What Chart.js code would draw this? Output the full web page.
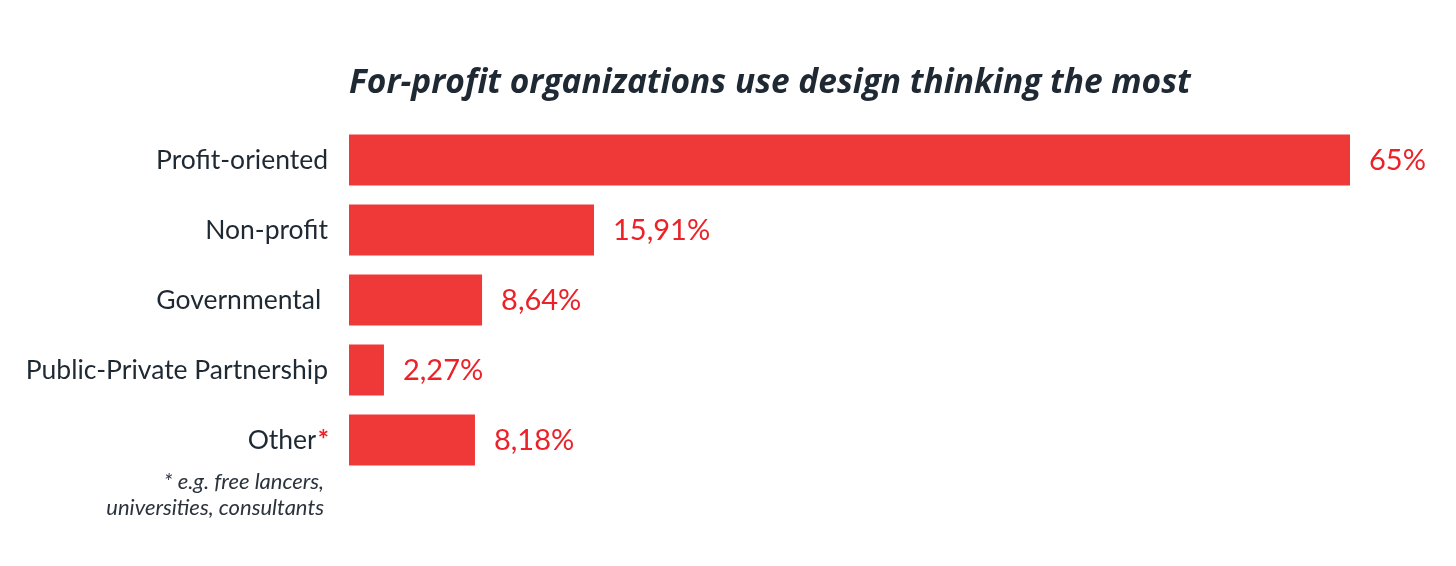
<!DOCTYPE html>
<html>
<head>
<meta charset="utf-8">
<script src="https://cdn.jsdelivr.net/npm/chart.js@4"></script>
<style>
  html, body { margin: 0; padding: 0; background: #ffffff; }
  #wrap { width: 1456px; height: 566px; position: relative; }
</style>
</head>
<body>
<div id="wrap"><canvas id="c" width="1456" height="566"></canvas></div>
<script>
const titleText = "For-profit organizations use design thinking the most";
const categories = ["Profit-oriented", "Non-profit", "Governmental ", "Public-Private Partnership", "Other*"];
const values = [65, 15.91, 8.64, 2.27, 8.18];
const valueLabels = ["65%", "15,91%", "8,64%", "2,27%", "8,18%"];
const footnoteLines = ["* e.g. free lancers,", "universities, consultants"];

const DARK = "#1f2933";
const RED_BAR = "#ef3838";
const RED_TEXT = "#ec2229";
const FONT = "Lato, 'Open Sans', sans-serif";
const LABEL_SIZE = 26.5;

const overlay = {
  id: "overlay",
  afterDatasetsDraw(chart) {
    const ctx = chart.ctx;
    const meta = chart.getDatasetMeta(0);
    const area = chart.chartArea;
    ctx.save();
    // title
    ctx.font = "italic bold 33.5px 'Open Sans', sans-serif";
    ctx.fillStyle = DARK;
    ctx.textAlign = "left";
    ctx.textBaseline = "alphabetic";
    ctx.fillText(titleText, area.left, 93);
    // value labels
    ctx.font = "29px " + FONT;
    ctx.fillStyle = RED_TEXT;
    meta.data.forEach((bar, i) => {
      ctx.fillText(valueLabels[i], bar.x + 19, bar.y + 10);
    });
    // red asterisk on "Other*"
    const yScale = chart.scales.y;
    const xRight = area.left - 21;
    const idx = categories.length - 1;
    const yOther = yScale.getPixelForValue(idx);
    ctx.textAlign = "right";
    ctx.textBaseline = "middle";
    ctx.font = LABEL_SIZE + "px " + FONT;
    const aw = ctx.measureText("*").width;
    ctx.fillStyle = "#ffffff";
    ctx.fillRect(xRight - aw - 1, yOther - 16, aw + 3, 15);
    ctx.fillStyle = RED_TEXT;
    ctx.font = "bold " + LABEL_SIZE + "px " + FONT;
    ctx.fillText("*", xRight + 1, yOther);
    // footnote
    ctx.font = "italic 22px " + FONT;
    ctx.fillStyle = "#2b333d";
    ctx.fillText(footnoteLines[0], xRight - 4, yOther + 42);
    ctx.fillText(footnoteLines[1], xRight - 4, yOther + 68);
    ctx.restore();
  }
};

new Chart(document.getElementById("c"), {
  type: "bar",
  data: {
    labels: categories,
    datasets: [{
      data: values,
      backgroundColor: RED_BAR,
      borderWidth: 0,
      barPercentage: 0.73,
      categoryPercentage: 1.0
    }]
  },
  options: {
    indexAxis: "y",
    responsive: false,
    animation: false,
    devicePixelRatio: 1,
    layout: { padding: { top: 125, right: 106, bottom: 91, left: 0 } },
    plugins: {
      legend: { display: false },
      tooltip: { enabled: false },
      title: { display: false }
    },
    scales: {
      x: {
        min: 0,
        max: 65,
        display: false,
        grid: { display: false }
      },
      y: {
        grid: { display: false, drawTicks: false },
        border: { display: false },
        ticks: {
          color: DARK,
          font: { family: FONT, size: LABEL_SIZE },
          padding: 21
        },
        afterFit(scale) { scale.width = 349; }
      }
    }
  },
  plugins: [overlay]
});
</script>
</body>
</html>
